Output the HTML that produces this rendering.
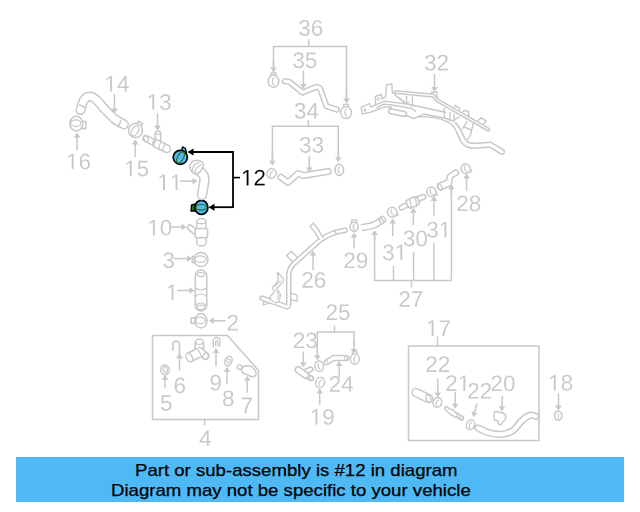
<!DOCTYPE html>
<html><head><meta charset="utf-8"><style>
html,body{margin:0;padding:0;background:#fff;width:640px;height:512px;overflow:hidden}
svg{position:absolute;left:0;top:0}
.bar{position:absolute;left:16px;top:457px;width:608px;height:45px;background:#4fb9f5}
.t{position:absolute;transform:scaleX(1.094);-webkit-text-stroke:0.25px #000;transform-origin:0 0;font-family:"Liberation Sans",sans-serif;font-size:17px;color:#000;white-space:nowrap;line-height:20px}
</style></head><body>
<svg width="640" height="512" viewBox="0 0 640 512">
<g fill="#c8c8c8" stroke="#fff" stroke-width="9.1"><path transform="translate(104.436 91.600) scale(0.010986 -0.010986)" d="M515 0L515 1237L197 1010L197 1180L530 1409L696 1409L696 0Z"/><path transform="translate(116.949 91.600) scale(0.010986 -0.010986)" d="M881 319V0H711V319H47V459L692 1409H881V461H1079V319ZM711 1206Q709 1200 683.0 1153.0Q657 1106 644 1087L283 555L229 481L213 461H711Z"/></g>
<g fill="#c8c8c8" stroke="#fff" stroke-width="9.1"><path transform="translate(66.036 169.300) scale(0.010986 -0.010986)" d="M515 0L515 1237L197 1010L197 1180L530 1409L696 1409L696 0Z"/><path transform="translate(78.549 169.300) scale(0.010986 -0.010986)" d="M1049 461Q1049 238 928.0 109.0Q807 -20 594 -20Q356 -20 230.0 157.0Q104 334 104 672Q104 1038 235.0 1234.0Q366 1430 608 1430Q927 1430 1010 1143L838 1112Q785 1284 606 1284Q452 1284 367.5 1140.5Q283 997 283 725Q332 816 421.0 863.5Q510 911 625 911Q820 911 934.5 789.0Q1049 667 1049 461ZM866 453Q866 606 791.0 689.0Q716 772 582 772Q456 772 378.5 698.5Q301 625 301 496Q301 333 381.5 229.0Q462 125 588 125Q718 125 792.0 212.5Q866 300 866 453Z"/></g>
<g fill="#c8c8c8" stroke="#fff" stroke-width="9.1"><path transform="translate(124.136 176.200) scale(0.010986 -0.010986)" d="M515 0L515 1237L197 1010L197 1180L530 1409L696 1409L696 0Z"/><path transform="translate(136.649 176.200) scale(0.010986 -0.010986)" d="M1053 459Q1053 236 920.5 108.0Q788 -20 553 -20Q356 -20 235.0 66.0Q114 152 82 315L264 336Q321 127 557 127Q702 127 784.0 214.5Q866 302 866 455Q866 588 783.5 670.0Q701 752 561 752Q488 752 425.0 729.0Q362 706 299 651H123L170 1409H971V1256H334L307 809Q424 899 598 899Q806 899 929.5 777.0Q1053 655 1053 459Z"/></g>
<g fill="#c8c8c8" stroke="#fff" stroke-width="9.1"><path transform="translate(146.586 109.800) scale(0.010986 -0.010986)" d="M515 0L515 1237L197 1010L197 1180L530 1409L696 1409L696 0Z"/><path transform="translate(159.099 109.800) scale(0.010986 -0.010986)" d="M1049 389Q1049 194 925.0 87.0Q801 -20 571 -20Q357 -20 229.5 76.5Q102 173 78 362L264 379Q300 129 571 129Q707 129 784.5 196.0Q862 263 862 395Q862 510 773.5 574.5Q685 639 518 639H416V795H514Q662 795 743.5 859.5Q825 924 825 1038Q825 1151 758.5 1216.5Q692 1282 561 1282Q442 1282 368.5 1221.0Q295 1160 283 1049L102 1063Q122 1236 245.5 1333.0Q369 1430 563 1430Q775 1430 892.5 1331.5Q1010 1233 1010 1057Q1010 922 934.5 837.5Q859 753 715 723V719Q873 702 961.0 613.0Q1049 524 1049 389Z"/></g>
<g fill="#c8c8c8" stroke="#fff" stroke-width="9.1"><path transform="translate(157.336 190.100) scale(0.010986 -0.010986)" d="M515 0L515 1237L197 1010L197 1180L530 1409L696 1409L696 0Z"/><path transform="translate(169.849 190.100) scale(0.010986 -0.010986)" d="M515 0L515 1237L197 1010L197 1180L530 1409L696 1409L696 0Z"/></g>
<g fill="#c8c8c8" stroke="#fff" stroke-width="9.1"><path transform="translate(147.236 235.400) scale(0.010986 -0.010986)" d="M515 0L515 1237L197 1010L197 1180L530 1409L696 1409L696 0Z"/><path transform="translate(159.749 235.400) scale(0.010986 -0.010986)" d="M1059 705Q1059 352 934.5 166.0Q810 -20 567 -20Q324 -20 202.0 165.0Q80 350 80 705Q80 1068 198.5 1249.0Q317 1430 573 1430Q822 1430 940.5 1247.0Q1059 1064 1059 705ZM876 705Q876 1010 805.5 1147.0Q735 1284 573 1284Q407 1284 334.5 1149.0Q262 1014 262 705Q262 405 335.5 266.0Q409 127 569 127Q728 127 802.0 269.0Q876 411 876 705Z"/></g>
<g fill="#c8c8c8" stroke="#fff" stroke-width="9.1"><path transform="translate(162.443 268.000) scale(0.010986 -0.010986)" d="M1049 389Q1049 194 925.0 87.0Q801 -20 571 -20Q357 -20 229.5 76.5Q102 173 78 362L264 379Q300 129 571 129Q707 129 784.5 196.0Q862 263 862 395Q862 510 773.5 574.5Q685 639 518 639H416V795H514Q662 795 743.5 859.5Q825 924 825 1038Q825 1151 758.5 1216.5Q692 1282 561 1282Q442 1282 368.5 1221.0Q295 1160 283 1049L102 1063Q122 1236 245.5 1333.0Q369 1430 563 1430Q775 1430 892.5 1331.5Q1010 1233 1010 1057Q1010 922 934.5 837.5Q859 753 715 723V719Q873 702 961.0 613.0Q1049 524 1049 389Z"/></g>
<g fill="#c8c8c8" stroke="#fff" stroke-width="9.1"><path transform="translate(165.836 300.100) scale(0.010986 -0.010986)" d="M515 0L515 1237L197 1010L197 1180L530 1409L696 1409L696 0Z"/></g>
<g fill="#c8c8c8" stroke="#fff" stroke-width="9.1"><path transform="translate(226.568 330.400) scale(0.010986 -0.010986)" d="M103 0V127Q154 244 227.5 333.5Q301 423 382.0 495.5Q463 568 542.5 630.0Q622 692 686.0 754.0Q750 816 789.5 884.0Q829 952 829 1038Q829 1154 761.0 1218.0Q693 1282 572 1282Q457 1282 382.5 1219.5Q308 1157 295 1044L111 1061Q131 1230 254.5 1330.0Q378 1430 572 1430Q785 1430 899.5 1329.5Q1014 1229 1014 1044Q1014 962 976.5 881.0Q939 800 865.0 719.0Q791 638 582 468Q467 374 399.0 298.5Q331 223 301 153H1036V0Z"/></g>
<g fill="#c8c8c8" stroke="#fff" stroke-width="9.1"><path transform="translate(199.084 446.000) scale(0.010986 -0.010986)" d="M881 319V0H711V319H47V459L692 1409H881V461H1079V319ZM711 1206Q709 1200 683.0 1153.0Q657 1106 644 1087L283 555L229 481L213 461H711Z"/></g>
<g fill="#c8c8c8" stroke="#fff" stroke-width="9.1"><path transform="translate(159.999 410.700) scale(0.010986 -0.010986)" d="M1053 459Q1053 236 920.5 108.0Q788 -20 553 -20Q356 -20 235.0 66.0Q114 152 82 315L264 336Q321 127 557 127Q702 127 784.0 214.5Q866 302 866 455Q866 588 783.5 670.0Q701 752 561 752Q488 752 425.0 729.0Q362 706 299 651H123L170 1409H971V1256H334L307 809Q424 899 598 899Q806 899 929.5 777.0Q1053 655 1053 459Z"/></g>
<g fill="#c8c8c8" stroke="#fff" stroke-width="9.1"><path transform="translate(173.457 393.200) scale(0.010986 -0.010986)" d="M1049 461Q1049 238 928.0 109.0Q807 -20 594 -20Q356 -20 230.0 157.0Q104 334 104 672Q104 1038 235.0 1234.0Q366 1430 608 1430Q927 1430 1010 1143L838 1112Q785 1284 606 1284Q452 1284 367.5 1140.5Q283 997 283 725Q332 816 421.0 863.5Q510 911 625 911Q820 911 934.5 789.0Q1049 667 1049 461ZM866 453Q866 606 791.0 689.0Q716 772 582 772Q456 772 378.5 698.5Q301 625 301 496Q301 333 381.5 229.0Q462 125 588 125Q718 125 792.0 212.5Q866 300 866 453Z"/></g>
<g fill="#c8c8c8" stroke="#fff" stroke-width="9.1"><path transform="translate(209.445 390.400) scale(0.010986 -0.010986)" d="M1042 733Q1042 370 909.5 175.0Q777 -20 532 -20Q367 -20 267.5 49.5Q168 119 125 274L297 301Q351 125 535 125Q690 125 775.0 269.0Q860 413 864 680Q824 590 727.0 535.5Q630 481 514 481Q324 481 210.0 611.0Q96 741 96 956Q96 1177 220.0 1303.5Q344 1430 565 1430Q800 1430 921.0 1256.0Q1042 1082 1042 733ZM846 907Q846 1077 768.0 1180.5Q690 1284 559 1284Q429 1284 354.0 1195.5Q279 1107 279 956Q279 802 354.0 712.5Q429 623 557 623Q635 623 702.0 658.5Q769 694 807.5 759.0Q846 824 846 907Z"/></g>
<g fill="#c8c8c8" stroke="#fff" stroke-width="9.1"><path transform="translate(222.022 406.100) scale(0.010986 -0.010986)" d="M1050 393Q1050 198 926.0 89.0Q802 -20 570 -20Q344 -20 216.5 87.0Q89 194 89 391Q89 529 168.0 623.0Q247 717 370 737V741Q255 768 188.5 858.0Q122 948 122 1069Q122 1230 242.5 1330.0Q363 1430 566 1430Q774 1430 894.5 1332.0Q1015 1234 1015 1067Q1015 946 948.0 856.0Q881 766 765 743V739Q900 717 975.0 624.5Q1050 532 1050 393ZM828 1057Q828 1296 566 1296Q439 1296 372.5 1236.0Q306 1176 306 1057Q306 936 374.5 872.5Q443 809 568 809Q695 809 761.5 867.5Q828 926 828 1057ZM863 410Q863 541 785.0 607.5Q707 674 566 674Q429 674 352.0 602.5Q275 531 275 406Q275 115 572 115Q719 115 791.0 185.5Q863 256 863 410Z"/></g>
<g fill="#c8c8c8" stroke="#fff" stroke-width="9.1"><path transform="translate(240.546 413.100) scale(0.010986 -0.010986)" d="M1036 1263Q820 933 731.0 746.0Q642 559 597.5 377.0Q553 195 553 0H365Q365 270 479.5 568.5Q594 867 862 1256H105V1409H1036Z"/></g>
<g fill="#c8c8c8" stroke="#fff" stroke-width="9.1"><path transform="translate(298.193 35.700) scale(0.010986 -0.010986)" d="M1049 389Q1049 194 925.0 87.0Q801 -20 571 -20Q357 -20 229.5 76.5Q102 173 78 362L264 379Q300 129 571 129Q707 129 784.5 196.0Q862 263 862 395Q862 510 773.5 574.5Q685 639 518 639H416V795H514Q662 795 743.5 859.5Q825 924 825 1038Q825 1151 758.5 1216.5Q692 1282 561 1282Q442 1282 368.5 1221.0Q295 1160 283 1049L102 1063Q122 1236 245.5 1333.0Q369 1430 563 1430Q775 1430 892.5 1331.5Q1010 1233 1010 1057Q1010 922 934.5 837.5Q859 753 715 723V719Q873 702 961.0 613.0Q1049 524 1049 389Z"/><path transform="translate(310.706 35.700) scale(0.010986 -0.010986)" d="M1049 461Q1049 238 928.0 109.0Q807 -20 594 -20Q356 -20 230.0 157.0Q104 334 104 672Q104 1038 235.0 1234.0Q366 1430 608 1430Q927 1430 1010 1143L838 1112Q785 1284 606 1284Q452 1284 367.5 1140.5Q283 997 283 725Q332 816 421.0 863.5Q510 911 625 911Q820 911 934.5 789.0Q1049 667 1049 461ZM866 453Q866 606 791.0 689.0Q716 772 582 772Q456 772 378.5 698.5Q301 625 301 496Q301 333 381.5 229.0Q462 125 588 125Q718 125 792.0 212.5Q866 300 866 453Z"/></g>
<g fill="#c8c8c8" stroke="#fff" stroke-width="9.1"><path transform="translate(292.343 68.000) scale(0.010986 -0.010986)" d="M1049 389Q1049 194 925.0 87.0Q801 -20 571 -20Q357 -20 229.5 76.5Q102 173 78 362L264 379Q300 129 571 129Q707 129 784.5 196.0Q862 263 862 395Q862 510 773.5 574.5Q685 639 518 639H416V795H514Q662 795 743.5 859.5Q825 924 825 1038Q825 1151 758.5 1216.5Q692 1282 561 1282Q442 1282 368.5 1221.0Q295 1160 283 1049L102 1063Q122 1236 245.5 1333.0Q369 1430 563 1430Q775 1430 892.5 1331.5Q1010 1233 1010 1057Q1010 922 934.5 837.5Q859 753 715 723V719Q873 702 961.0 613.0Q1049 524 1049 389Z"/><path transform="translate(304.856 68.000) scale(0.010986 -0.010986)" d="M1053 459Q1053 236 920.5 108.0Q788 -20 553 -20Q356 -20 235.0 66.0Q114 152 82 315L264 336Q321 127 557 127Q702 127 784.0 214.5Q866 302 866 455Q866 588 783.5 670.0Q701 752 561 752Q488 752 425.0 729.0Q362 706 299 651H123L170 1409H971V1256H334L307 809Q424 899 598 899Q806 899 929.5 777.0Q1053 655 1053 459Z"/></g>
<g fill="#c8c8c8" stroke="#fff" stroke-width="9.1"><path transform="translate(293.893 118.500) scale(0.010986 -0.010986)" d="M1049 389Q1049 194 925.0 87.0Q801 -20 571 -20Q357 -20 229.5 76.5Q102 173 78 362L264 379Q300 129 571 129Q707 129 784.5 196.0Q862 263 862 395Q862 510 773.5 574.5Q685 639 518 639H416V795H514Q662 795 743.5 859.5Q825 924 825 1038Q825 1151 758.5 1216.5Q692 1282 561 1282Q442 1282 368.5 1221.0Q295 1160 283 1049L102 1063Q122 1236 245.5 1333.0Q369 1430 563 1430Q775 1430 892.5 1331.5Q1010 1233 1010 1057Q1010 922 934.5 837.5Q859 753 715 723V719Q873 702 961.0 613.0Q1049 524 1049 389Z"/><path transform="translate(306.406 118.500) scale(0.010986 -0.010986)" d="M881 319V0H711V319H47V459L692 1409H881V461H1079V319ZM711 1206Q709 1200 683.0 1153.0Q657 1106 644 1087L283 555L229 481L213 461H711Z"/></g>
<g fill="#c8c8c8" stroke="#fff" stroke-width="9.1"><path transform="translate(299.043 152.700) scale(0.010986 -0.010986)" d="M1049 389Q1049 194 925.0 87.0Q801 -20 571 -20Q357 -20 229.5 76.5Q102 173 78 362L264 379Q300 129 571 129Q707 129 784.5 196.0Q862 263 862 395Q862 510 773.5 574.5Q685 639 518 639H416V795H514Q662 795 743.5 859.5Q825 924 825 1038Q825 1151 758.5 1216.5Q692 1282 561 1282Q442 1282 368.5 1221.0Q295 1160 283 1049L102 1063Q122 1236 245.5 1333.0Q369 1430 563 1430Q775 1430 892.5 1331.5Q1010 1233 1010 1057Q1010 922 934.5 837.5Q859 753 715 723V719Q873 702 961.0 613.0Q1049 524 1049 389Z"/><path transform="translate(311.556 152.700) scale(0.010986 -0.010986)" d="M1049 389Q1049 194 925.0 87.0Q801 -20 571 -20Q357 -20 229.5 76.5Q102 173 78 362L264 379Q300 129 571 129Q707 129 784.5 196.0Q862 263 862 395Q862 510 773.5 574.5Q685 639 518 639H416V795H514Q662 795 743.5 859.5Q825 924 825 1038Q825 1151 758.5 1216.5Q692 1282 561 1282Q442 1282 368.5 1221.0Q295 1160 283 1049L102 1063Q122 1236 245.5 1333.0Q369 1430 563 1430Q775 1430 892.5 1331.5Q1010 1233 1010 1057Q1010 922 934.5 837.5Q859 753 715 723V719Q873 702 961.0 613.0Q1049 524 1049 389Z"/></g>
<g fill="#c8c8c8" stroke="#fff" stroke-width="9.1"><path transform="translate(424.043 70.400) scale(0.010986 -0.010986)" d="M1049 389Q1049 194 925.0 87.0Q801 -20 571 -20Q357 -20 229.5 76.5Q102 173 78 362L264 379Q300 129 571 129Q707 129 784.5 196.0Q862 263 862 395Q862 510 773.5 574.5Q685 639 518 639H416V795H514Q662 795 743.5 859.5Q825 924 825 1038Q825 1151 758.5 1216.5Q692 1282 561 1282Q442 1282 368.5 1221.0Q295 1160 283 1049L102 1063Q122 1236 245.5 1333.0Q369 1430 563 1430Q775 1430 892.5 1331.5Q1010 1233 1010 1057Q1010 922 934.5 837.5Q859 753 715 723V719Q873 702 961.0 613.0Q1049 524 1049 389Z"/><path transform="translate(436.556 70.400) scale(0.010986 -0.010986)" d="M103 0V127Q154 244 227.5 333.5Q301 423 382.0 495.5Q463 568 542.5 630.0Q622 692 686.0 754.0Q750 816 789.5 884.0Q829 952 829 1038Q829 1154 761.0 1218.0Q693 1282 572 1282Q457 1282 382.5 1219.5Q308 1157 295 1044L111 1061Q131 1230 254.5 1330.0Q378 1430 572 1430Q785 1430 899.5 1329.5Q1014 1229 1014 1044Q1014 962 976.5 881.0Q939 800 865.0 719.0Q791 638 582 468Q467 374 399.0 298.5Q331 223 301 153H1036V0Z"/></g>
<g fill="#c8c8c8" stroke="#fff" stroke-width="9.1"><path transform="translate(301.268 287.700) scale(0.010986 -0.010986)" d="M103 0V127Q154 244 227.5 333.5Q301 423 382.0 495.5Q463 568 542.5 630.0Q622 692 686.0 754.0Q750 816 789.5 884.0Q829 952 829 1038Q829 1154 761.0 1218.0Q693 1282 572 1282Q457 1282 382.5 1219.5Q308 1157 295 1044L111 1061Q131 1230 254.5 1330.0Q378 1430 572 1430Q785 1430 899.5 1329.5Q1014 1229 1014 1044Q1014 962 976.5 881.0Q939 800 865.0 719.0Q791 638 582 468Q467 374 399.0 298.5Q331 223 301 153H1036V0Z"/><path transform="translate(313.782 287.700) scale(0.010986 -0.010986)" d="M1049 461Q1049 238 928.0 109.0Q807 -20 594 -20Q356 -20 230.0 157.0Q104 334 104 672Q104 1038 235.0 1234.0Q366 1430 608 1430Q927 1430 1010 1143L838 1112Q785 1284 606 1284Q452 1284 367.5 1140.5Q283 997 283 725Q332 816 421.0 863.5Q510 911 625 911Q820 911 934.5 789.0Q1049 667 1049 461ZM866 453Q866 606 791.0 689.0Q716 772 582 772Q456 772 378.5 698.5Q301 625 301 496Q301 333 381.5 229.0Q462 125 588 125Q718 125 792.0 212.5Q866 300 866 453Z"/></g>
<g fill="#c8c8c8" stroke="#fff" stroke-width="9.1"><path transform="translate(343.268 268.100) scale(0.010986 -0.010986)" d="M103 0V127Q154 244 227.5 333.5Q301 423 382.0 495.5Q463 568 542.5 630.0Q622 692 686.0 754.0Q750 816 789.5 884.0Q829 952 829 1038Q829 1154 761.0 1218.0Q693 1282 572 1282Q457 1282 382.5 1219.5Q308 1157 295 1044L111 1061Q131 1230 254.5 1330.0Q378 1430 572 1430Q785 1430 899.5 1329.5Q1014 1229 1014 1044Q1014 962 976.5 881.0Q939 800 865.0 719.0Q791 638 582 468Q467 374 399.0 298.5Q331 223 301 153H1036V0Z"/><path transform="translate(355.782 268.100) scale(0.010986 -0.010986)" d="M1042 733Q1042 370 909.5 175.0Q777 -20 532 -20Q367 -20 267.5 49.5Q168 119 125 274L297 301Q351 125 535 125Q690 125 775.0 269.0Q860 413 864 680Q824 590 727.0 535.5Q630 481 514 481Q324 481 210.0 611.0Q96 741 96 956Q96 1177 220.0 1303.5Q344 1430 565 1430Q800 1430 921.0 1256.0Q1042 1082 1042 733ZM846 907Q846 1077 768.0 1180.5Q690 1284 559 1284Q429 1284 354.0 1195.5Q279 1107 279 956Q279 802 354.0 712.5Q429 623 557 623Q635 623 702.0 658.5Q769 694 807.5 759.0Q846 824 846 907Z"/></g>
<g fill="#c8c8c8" stroke="#fff" stroke-width="9.1"><path transform="translate(382.143 260.100) scale(0.010986 -0.010986)" d="M1049 389Q1049 194 925.0 87.0Q801 -20 571 -20Q357 -20 229.5 76.5Q102 173 78 362L264 379Q300 129 571 129Q707 129 784.5 196.0Q862 263 862 395Q862 510 773.5 574.5Q685 639 518 639H416V795H514Q662 795 743.5 859.5Q825 924 825 1038Q825 1151 758.5 1216.5Q692 1282 561 1282Q442 1282 368.5 1221.0Q295 1160 283 1049L102 1063Q122 1236 245.5 1333.0Q369 1430 563 1430Q775 1430 892.5 1331.5Q1010 1233 1010 1057Q1010 922 934.5 837.5Q859 753 715 723V719Q873 702 961.0 613.0Q1049 524 1049 389Z"/><path transform="translate(394.656 260.100) scale(0.010986 -0.010986)" d="M515 0L515 1237L197 1010L197 1180L530 1409L696 1409L696 0Z"/></g>
<g fill="#c8c8c8" stroke="#fff" stroke-width="9.1"><path transform="translate(402.843 246.200) scale(0.010986 -0.010986)" d="M1049 389Q1049 194 925.0 87.0Q801 -20 571 -20Q357 -20 229.5 76.5Q102 173 78 362L264 379Q300 129 571 129Q707 129 784.5 196.0Q862 263 862 395Q862 510 773.5 574.5Q685 639 518 639H416V795H514Q662 795 743.5 859.5Q825 924 825 1038Q825 1151 758.5 1216.5Q692 1282 561 1282Q442 1282 368.5 1221.0Q295 1160 283 1049L102 1063Q122 1236 245.5 1333.0Q369 1430 563 1430Q775 1430 892.5 1331.5Q1010 1233 1010 1057Q1010 922 934.5 837.5Q859 753 715 723V719Q873 702 961.0 613.0Q1049 524 1049 389Z"/><path transform="translate(415.356 246.200) scale(0.010986 -0.010986)" d="M1059 705Q1059 352 934.5 166.0Q810 -20 567 -20Q324 -20 202.0 165.0Q80 350 80 705Q80 1068 198.5 1249.0Q317 1430 573 1430Q822 1430 940.5 1247.0Q1059 1064 1059 705ZM876 705Q876 1010 805.5 1147.0Q735 1284 573 1284Q407 1284 334.5 1149.0Q262 1014 262 705Q262 405 335.5 266.0Q409 127 569 127Q728 127 802.0 269.0Q876 411 876 705Z"/></g>
<g fill="#c8c8c8" stroke="#fff" stroke-width="9.1"><path transform="translate(426.243 237.400) scale(0.010986 -0.010986)" d="M1049 389Q1049 194 925.0 87.0Q801 -20 571 -20Q357 -20 229.5 76.5Q102 173 78 362L264 379Q300 129 571 129Q707 129 784.5 196.0Q862 263 862 395Q862 510 773.5 574.5Q685 639 518 639H416V795H514Q662 795 743.5 859.5Q825 924 825 1038Q825 1151 758.5 1216.5Q692 1282 561 1282Q442 1282 368.5 1221.0Q295 1160 283 1049L102 1063Q122 1236 245.5 1333.0Q369 1430 563 1430Q775 1430 892.5 1331.5Q1010 1233 1010 1057Q1010 922 934.5 837.5Q859 753 715 723V719Q873 702 961.0 613.0Q1049 524 1049 389Z"/><path transform="translate(438.756 237.400) scale(0.010986 -0.010986)" d="M515 0L515 1237L197 1010L197 1180L530 1409L696 1409L696 0Z"/></g>
<g fill="#c8c8c8" stroke="#fff" stroke-width="9.1"><path transform="translate(456.268 211.100) scale(0.010986 -0.010986)" d="M103 0V127Q154 244 227.5 333.5Q301 423 382.0 495.5Q463 568 542.5 630.0Q622 692 686.0 754.0Q750 816 789.5 884.0Q829 952 829 1038Q829 1154 761.0 1218.0Q693 1282 572 1282Q457 1282 382.5 1219.5Q308 1157 295 1044L111 1061Q131 1230 254.5 1330.0Q378 1430 572 1430Q785 1430 899.5 1329.5Q1014 1229 1014 1044Q1014 962 976.5 881.0Q939 800 865.0 719.0Q791 638 582 468Q467 374 399.0 298.5Q331 223 301 153H1036V0Z"/><path transform="translate(468.782 211.100) scale(0.010986 -0.010986)" d="M1050 393Q1050 198 926.0 89.0Q802 -20 570 -20Q344 -20 216.5 87.0Q89 194 89 391Q89 529 168.0 623.0Q247 717 370 737V741Q255 768 188.5 858.0Q122 948 122 1069Q122 1230 242.5 1330.0Q363 1430 566 1430Q774 1430 894.5 1332.0Q1015 1234 1015 1067Q1015 946 948.0 856.0Q881 766 765 743V739Q900 717 975.0 624.5Q1050 532 1050 393ZM828 1057Q828 1296 566 1296Q439 1296 372.5 1236.0Q306 1176 306 1057Q306 936 374.5 872.5Q443 809 568 809Q695 809 761.5 867.5Q828 926 828 1057ZM863 410Q863 541 785.0 607.5Q707 674 566 674Q429 674 352.0 602.5Q275 531 275 406Q275 115 572 115Q719 115 791.0 185.5Q863 256 863 410Z"/></g>
<g fill="#c8c8c8" stroke="#fff" stroke-width="9.1"><path transform="translate(398.368 306.800) scale(0.010986 -0.010986)" d="M103 0V127Q154 244 227.5 333.5Q301 423 382.0 495.5Q463 568 542.5 630.0Q622 692 686.0 754.0Q750 816 789.5 884.0Q829 952 829 1038Q829 1154 761.0 1218.0Q693 1282 572 1282Q457 1282 382.5 1219.5Q308 1157 295 1044L111 1061Q131 1230 254.5 1330.0Q378 1430 572 1430Q785 1430 899.5 1329.5Q1014 1229 1014 1044Q1014 962 976.5 881.0Q939 800 865.0 719.0Q791 638 582 468Q467 374 399.0 298.5Q331 223 301 153H1036V0Z"/><path transform="translate(410.882 306.800) scale(0.010986 -0.010986)" d="M1036 1263Q820 933 731.0 746.0Q642 559 597.5 377.0Q553 195 553 0H365Q365 270 479.5 568.5Q594 867 862 1256H105V1409H1036Z"/></g>
<g fill="#c8c8c8" stroke="#fff" stroke-width="9.1"><path transform="translate(325.568 319.900) scale(0.010986 -0.010986)" d="M103 0V127Q154 244 227.5 333.5Q301 423 382.0 495.5Q463 568 542.5 630.0Q622 692 686.0 754.0Q750 816 789.5 884.0Q829 952 829 1038Q829 1154 761.0 1218.0Q693 1282 572 1282Q457 1282 382.5 1219.5Q308 1157 295 1044L111 1061Q131 1230 254.5 1330.0Q378 1430 572 1430Q785 1430 899.5 1329.5Q1014 1229 1014 1044Q1014 962 976.5 881.0Q939 800 865.0 719.0Q791 638 582 468Q467 374 399.0 298.5Q331 223 301 153H1036V0Z"/><path transform="translate(338.082 319.900) scale(0.010986 -0.010986)" d="M1053 459Q1053 236 920.5 108.0Q788 -20 553 -20Q356 -20 235.0 66.0Q114 152 82 315L264 336Q321 127 557 127Q702 127 784.0 214.5Q866 302 866 455Q866 588 783.5 670.0Q701 752 561 752Q488 752 425.0 729.0Q362 706 299 651H123L170 1409H971V1256H334L307 809Q424 899 598 899Q806 899 929.5 777.0Q1053 655 1053 459Z"/></g>
<g fill="#c8c8c8" stroke="#fff" stroke-width="9.1"><path transform="translate(292.768 348.100) scale(0.010986 -0.010986)" d="M103 0V127Q154 244 227.5 333.5Q301 423 382.0 495.5Q463 568 542.5 630.0Q622 692 686.0 754.0Q750 816 789.5 884.0Q829 952 829 1038Q829 1154 761.0 1218.0Q693 1282 572 1282Q457 1282 382.5 1219.5Q308 1157 295 1044L111 1061Q131 1230 254.5 1330.0Q378 1430 572 1430Q785 1430 899.5 1329.5Q1014 1229 1014 1044Q1014 962 976.5 881.0Q939 800 865.0 719.0Q791 638 582 468Q467 374 399.0 298.5Q331 223 301 153H1036V0Z"/><path transform="translate(305.282 348.100) scale(0.010986 -0.010986)" d="M1049 389Q1049 194 925.0 87.0Q801 -20 571 -20Q357 -20 229.5 76.5Q102 173 78 362L264 379Q300 129 571 129Q707 129 784.5 196.0Q862 263 862 395Q862 510 773.5 574.5Q685 639 518 639H416V795H514Q662 795 743.5 859.5Q825 924 825 1038Q825 1151 758.5 1216.5Q692 1282 561 1282Q442 1282 368.5 1221.0Q295 1160 283 1049L102 1063Q122 1236 245.5 1333.0Q369 1430 563 1430Q775 1430 892.5 1331.5Q1010 1233 1010 1057Q1010 922 934.5 837.5Q859 753 715 723V719Q873 702 961.0 613.0Q1049 524 1049 389Z"/></g>
<g fill="#c8c8c8" stroke="#fff" stroke-width="9.1"><path transform="translate(328.668 391.800) scale(0.010986 -0.010986)" d="M103 0V127Q154 244 227.5 333.5Q301 423 382.0 495.5Q463 568 542.5 630.0Q622 692 686.0 754.0Q750 816 789.5 884.0Q829 952 829 1038Q829 1154 761.0 1218.0Q693 1282 572 1282Q457 1282 382.5 1219.5Q308 1157 295 1044L111 1061Q131 1230 254.5 1330.0Q378 1430 572 1430Q785 1430 899.5 1329.5Q1014 1229 1014 1044Q1014 962 976.5 881.0Q939 800 865.0 719.0Q791 638 582 468Q467 374 399.0 298.5Q331 223 301 153H1036V0Z"/><path transform="translate(341.182 391.800) scale(0.010986 -0.010986)" d="M881 319V0H711V319H47V459L692 1409H881V461H1079V319ZM711 1206Q709 1200 683.0 1153.0Q657 1106 644 1087L283 555L229 481L213 461H711Z"/></g>
<g fill="#c8c8c8" stroke="#fff" stroke-width="9.1"><path transform="translate(309.736 424.600) scale(0.010986 -0.010986)" d="M515 0L515 1237L197 1010L197 1180L530 1409L696 1409L696 0Z"/><path transform="translate(322.249 424.600) scale(0.010986 -0.010986)" d="M1042 733Q1042 370 909.5 175.0Q777 -20 532 -20Q367 -20 267.5 49.5Q168 119 125 274L297 301Q351 125 535 125Q690 125 775.0 269.0Q860 413 864 680Q824 590 727.0 535.5Q630 481 514 481Q324 481 210.0 611.0Q96 741 96 956Q96 1177 220.0 1303.5Q344 1430 565 1430Q800 1430 921.0 1256.0Q1042 1082 1042 733ZM846 907Q846 1077 768.0 1180.5Q690 1284 559 1284Q429 1284 354.0 1195.5Q279 1107 279 956Q279 802 354.0 712.5Q429 623 557 623Q635 623 702.0 658.5Q769 694 807.5 759.0Q846 824 846 907Z"/></g>
<g fill="#c8c8c8" stroke="#fff" stroke-width="9.1"><path transform="translate(425.936 335.900) scale(0.010986 -0.010986)" d="M515 0L515 1237L197 1010L197 1180L530 1409L696 1409L696 0Z"/><path transform="translate(438.449 335.900) scale(0.010986 -0.010986)" d="M1036 1263Q820 933 731.0 746.0Q642 559 597.5 377.0Q553 195 553 0H365Q365 270 479.5 568.5Q594 867 862 1256H105V1409H1036Z"/></g>
<g fill="#c8c8c8" stroke="#fff" stroke-width="9.1"><path transform="translate(425.268 371.900) scale(0.010986 -0.010986)" d="M103 0V127Q154 244 227.5 333.5Q301 423 382.0 495.5Q463 568 542.5 630.0Q622 692 686.0 754.0Q750 816 789.5 884.0Q829 952 829 1038Q829 1154 761.0 1218.0Q693 1282 572 1282Q457 1282 382.5 1219.5Q308 1157 295 1044L111 1061Q131 1230 254.5 1330.0Q378 1430 572 1430Q785 1430 899.5 1329.5Q1014 1229 1014 1044Q1014 962 976.5 881.0Q939 800 865.0 719.0Q791 638 582 468Q467 374 399.0 298.5Q331 223 301 153H1036V0Z"/><path transform="translate(437.782 371.900) scale(0.010986 -0.010986)" d="M103 0V127Q154 244 227.5 333.5Q301 423 382.0 495.5Q463 568 542.5 630.0Q622 692 686.0 754.0Q750 816 789.5 884.0Q829 952 829 1038Q829 1154 761.0 1218.0Q693 1282 572 1282Q457 1282 382.5 1219.5Q308 1157 295 1044L111 1061Q131 1230 254.5 1330.0Q378 1430 572 1430Q785 1430 899.5 1329.5Q1014 1229 1014 1044Q1014 962 976.5 881.0Q939 800 865.0 719.0Q791 638 582 468Q467 374 399.0 298.5Q331 223 301 153H1036V0Z"/></g>
<g fill="#c8c8c8" stroke="#fff" stroke-width="9.1"><path transform="translate(445.168 390.900) scale(0.010986 -0.010986)" d="M103 0V127Q154 244 227.5 333.5Q301 423 382.0 495.5Q463 568 542.5 630.0Q622 692 686.0 754.0Q750 816 789.5 884.0Q829 952 829 1038Q829 1154 761.0 1218.0Q693 1282 572 1282Q457 1282 382.5 1219.5Q308 1157 295 1044L111 1061Q131 1230 254.5 1330.0Q378 1430 572 1430Q785 1430 899.5 1329.5Q1014 1229 1014 1044Q1014 962 976.5 881.0Q939 800 865.0 719.0Q791 638 582 468Q467 374 399.0 298.5Q331 223 301 153H1036V0Z"/><path transform="translate(457.682 390.900) scale(0.010986 -0.010986)" d="M515 0L515 1237L197 1010L197 1180L530 1409L696 1409L696 0Z"/></g>
<g fill="#c8c8c8" stroke="#fff" stroke-width="9.1"><path transform="translate(467.168 398.600) scale(0.010986 -0.010986)" d="M103 0V127Q154 244 227.5 333.5Q301 423 382.0 495.5Q463 568 542.5 630.0Q622 692 686.0 754.0Q750 816 789.5 884.0Q829 952 829 1038Q829 1154 761.0 1218.0Q693 1282 572 1282Q457 1282 382.5 1219.5Q308 1157 295 1044L111 1061Q131 1230 254.5 1330.0Q378 1430 572 1430Q785 1430 899.5 1329.5Q1014 1229 1014 1044Q1014 962 976.5 881.0Q939 800 865.0 719.0Q791 638 582 468Q467 374 399.0 298.5Q331 223 301 153H1036V0Z"/><path transform="translate(479.682 398.600) scale(0.010986 -0.010986)" d="M103 0V127Q154 244 227.5 333.5Q301 423 382.0 495.5Q463 568 542.5 630.0Q622 692 686.0 754.0Q750 816 789.5 884.0Q829 952 829 1038Q829 1154 761.0 1218.0Q693 1282 572 1282Q457 1282 382.5 1219.5Q308 1157 295 1044L111 1061Q131 1230 254.5 1330.0Q378 1430 572 1430Q785 1430 899.5 1329.5Q1014 1229 1014 1044Q1014 962 976.5 881.0Q939 800 865.0 719.0Q791 638 582 468Q467 374 399.0 298.5Q331 223 301 153H1036V0Z"/></g>
<g fill="#c8c8c8" stroke="#fff" stroke-width="9.1"><path transform="translate(490.468 391.100) scale(0.010986 -0.010986)" d="M103 0V127Q154 244 227.5 333.5Q301 423 382.0 495.5Q463 568 542.5 630.0Q622 692 686.0 754.0Q750 816 789.5 884.0Q829 952 829 1038Q829 1154 761.0 1218.0Q693 1282 572 1282Q457 1282 382.5 1219.5Q308 1157 295 1044L111 1061Q131 1230 254.5 1330.0Q378 1430 572 1430Q785 1430 899.5 1329.5Q1014 1229 1014 1044Q1014 962 976.5 881.0Q939 800 865.0 719.0Q791 638 582 468Q467 374 399.0 298.5Q331 223 301 153H1036V0Z"/><path transform="translate(502.982 391.100) scale(0.010986 -0.010986)" d="M1059 705Q1059 352 934.5 166.0Q810 -20 567 -20Q324 -20 202.0 165.0Q80 350 80 705Q80 1068 198.5 1249.0Q317 1430 573 1430Q822 1430 940.5 1247.0Q1059 1064 1059 705ZM876 705Q876 1010 805.5 1147.0Q735 1284 573 1284Q407 1284 334.5 1149.0Q262 1014 262 705Q262 405 335.5 266.0Q409 127 569 127Q728 127 802.0 269.0Q876 411 876 705Z"/></g>
<g fill="#c8c8c8" stroke="#fff" stroke-width="9.1"><path transform="translate(548.136 390.500) scale(0.010986 -0.010986)" d="M515 0L515 1237L197 1010L197 1180L530 1409L696 1409L696 0Z"/><path transform="translate(560.649 390.500) scale(0.010986 -0.010986)" d="M1050 393Q1050 198 926.0 89.0Q802 -20 570 -20Q344 -20 216.5 87.0Q89 194 89 391Q89 529 168.0 623.0Q247 717 370 737V741Q255 768 188.5 858.0Q122 948 122 1069Q122 1230 242.5 1330.0Q363 1430 566 1430Q774 1430 894.5 1332.0Q1015 1234 1015 1067Q1015 946 948.0 856.0Q881 766 765 743V739Q900 717 975.0 624.5Q1050 532 1050 393ZM828 1057Q828 1296 566 1296Q439 1296 372.5 1236.0Q306 1176 306 1057Q306 936 374.5 872.5Q443 809 568 809Q695 809 761.5 867.5Q828 926 828 1057ZM863 410Q863 541 785.0 607.5Q707 674 566 674Q429 674 352.0 602.5Q275 531 275 406Q275 115 572 115Q719 115 791.0 185.5Q863 256 863 410Z"/></g>
<g fill="#000" stroke="#fff" stroke-width="18.2"><path transform="translate(240.936 185.500) scale(0.010986 -0.010986)" d="M515 0L515 1237L197 1010L197 1180L530 1409L696 1409L696 0Z"/><path transform="translate(253.449 185.500) scale(0.010986 -0.010986)" d="M103 0V127Q154 244 227.5 333.5Q301 423 382.0 495.5Q463 568 542.5 630.0Q622 692 686.0 754.0Q750 816 789.5 884.0Q829 952 829 1038Q829 1154 761.0 1218.0Q693 1282 572 1282Q457 1282 382.5 1219.5Q308 1157 295 1044L111 1061Q131 1230 254.5 1330.0Q378 1430 572 1430Q785 1430 899.5 1329.5Q1014 1229 1014 1044Q1014 962 976.5 881.0Q939 800 865.0 719.0Q791 638 582 468Q467 374 399.0 298.5Q331 223 301 153H1036V0Z"/></g>
<path d="M80.50,110.00 C81.08,108.33 82.50,102.25 84.00,100.00 C85.50,97.75 87.50,96.58 89.50,96.50 C91.50,96.42 93.42,97.33 96.00,99.50 C98.58,101.67 102.00,106.33 105.00,109.50 C108.00,112.67 110.83,116.00 114.00,118.50 C117.17,121.00 122.33,123.50 124.00,124.50" fill="none" stroke="#c8c8c8" stroke-width="10.0" stroke-linecap="round" stroke-linejoin="round"/>
<path d="M80.50,110.00 C81.08,108.33 82.50,102.25 84.00,100.00 C85.50,97.75 87.50,96.58 89.50,96.50 C91.50,96.42 93.42,97.33 96.00,99.50 C98.58,101.67 102.00,106.33 105.00,109.50 C108.00,112.67 110.83,116.00 114.00,118.50 C117.17,121.00 122.33,123.50 124.00,124.50" fill="none" stroke="#fff" stroke-width="7.0" stroke-linecap="round" stroke-linejoin="round"/>
<path d="M79.00,104.50 L86.00,108.00" fill="none" stroke="#c8c8c8" stroke-width="1.5" stroke-linejoin="miter"/>
<path d="M121.00,120.00 L118.00,127.50" fill="none" stroke="#c8c8c8" stroke-width="1.5" stroke-linejoin="miter"/>
<line x1="114.40" y1="94.00" x2="114.40" y2="109.00" stroke="#c8c8c8" stroke-width="1.5"/>
<path d="M114.40,113.50 L111.10,108.50 L117.70,108.50Z" fill="#c8c8c8"/>
<rect x="81.80" y="121.50" width="4" height="7" transform="rotate(0 83.8 125)" fill="#fff" stroke="#c8c8c8" stroke-width="1.5"/>
<g transform="rotate(0 76.3 123.6)">
<ellipse cx="76.3" cy="123.6" rx="6.4" ry="7.3" fill="#fff" stroke="#c8c8c8" stroke-width="1.5"/>
<ellipse cx="75.79" cy="123.23" rx="4.99" ry="3.29" fill="none" stroke="#c8c8c8" stroke-width="1.275"/>
</g>
<line x1="77.00" y1="150.00" x2="77.00" y2="137.00" stroke="#c8c8c8" stroke-width="1.5"/>
<path d="M77.00,132.50 L80.30,137.50 L73.70,137.50Z" fill="#c8c8c8"/>
<rect x="137.10" y="122.05" width="5" height="3.5" transform="rotate(35 139.6 123.8)" fill="#fff" stroke="#c8c8c8" stroke-width="1.5"/>
<g transform="rotate(-60 135.5 130.6)">
<ellipse cx="135.5" cy="130.6" rx="7" ry="7" fill="#fff" stroke="#c8c8c8" stroke-width="1.5"/>
<ellipse cx="134.94" cy="130.25" rx="5.46" ry="3.15" fill="none" stroke="#c8c8c8" stroke-width="1.275"/>
</g>
<line x1="135.20" y1="157.00" x2="135.20" y2="144.00" stroke="#c8c8c8" stroke-width="1.5"/>
<path d="M135.20,139.50 L138.50,144.50 L131.90,144.50Z" fill="#c8c8c8"/>
<rect x="155.3" y="131.3" width="5.4" height="11" rx="2.5" ry="1.8" fill="#fff" stroke="#c8c8c8" stroke-width="1.5"/>
<path d="M155.5,133.5 Q158,135 160.5,133.5" fill="none" stroke="#c8c8c8" stroke-width="1.1"/>
<path d="M146.00,138.50 L156.00,143.50" fill="none" stroke="#c8c8c8" stroke-width="7.5" stroke-linecap="round" stroke-linejoin="round"/>
<path d="M146.00,138.50 L156.00,143.50" fill="none" stroke="#fff" stroke-width="4.5" stroke-linecap="round" stroke-linejoin="round"/>
<path d="M156.50,143.50 L166.80,148.80" fill="none" stroke="#c8c8c8" stroke-width="9.0" stroke-linecap="round" stroke-linejoin="round"/>
<path d="M156.50,143.50 L166.80,148.80" fill="none" stroke="#fff" stroke-width="6.0" stroke-linecap="round" stroke-linejoin="round"/>
<ellipse cx="146" cy="138.6" rx="2" ry="3.2" transform="rotate(-30 146 138.6)" fill="none" stroke="#c8c8c8" stroke-width="1.2"/>
<path d="M156.5,139.5 Q153.5,143 154,148 M161,141.5 Q158.5,146 159,150.5 M165,143.5 Q162.5,148 163,152.5" fill="none" stroke="#c8c8c8" stroke-width="1.2"/>
<line x1="157.50" y1="113.00" x2="157.50" y2="126.30" stroke="#c8c8c8" stroke-width="1.5"/>
<path d="M157.50,130.80 L154.20,125.80 L160.80,125.80Z" fill="#c8c8c8"/>
<line x1="233.00" y1="152.00" x2="193.00" y2="152.00" stroke="#000" stroke-width="1.8"/>
<path d="M187.50,152.00 L193.50,148.50 L193.50,155.50Z" fill="#000"/>
<path d="M233.00,151.10 L233.00,208.10" fill="none" stroke="#000" stroke-width="1.8" stroke-linejoin="miter"/>
<line x1="233.00" y1="207.20" x2="214.00" y2="207.20" stroke="#000" stroke-width="1.8"/>
<path d="M208.50,207.20 L214.50,203.70 L214.50,210.70Z" fill="#000"/>
<path d="M233.00,177.60 L240.00,177.60" fill="none" stroke="#000" stroke-width="1.6" stroke-linejoin="miter"/>
<path d="M181.5,151 L182.5,146.8 L185.5,148.5 L186.5,153 Z" fill="#4fbaf4" stroke="#000" stroke-width="1.3" stroke-linejoin="round"/>
<ellipse cx="180.3" cy="157.3" rx="7.1" ry="7" fill="#4fbaf4" stroke="#000" stroke-width="1.7"/>
<ellipse cx="180.5" cy="157.5" rx="6" ry="2.9" transform="rotate(-62 180.5 157.5)" fill="none" stroke="#2e6e1a" stroke-width="1.1"/>
<path d="M181.5,151 L185,153" fill="none" stroke="#2e6e1a" stroke-width="1"/>
<path d="M195.5,204 L191.5,205 L191,211 L195.5,211 Z" fill="#2e6e1a" stroke="#000" stroke-width="1.3"/>
<ellipse cx="201.4" cy="207.4" rx="6.5" ry="7.1" fill="#4fbaf4" stroke="#000" stroke-width="1.7"/>
<ellipse cx="201.2" cy="207.3" rx="5.2" ry="2.8" fill="none" stroke="#2e6e1a" stroke-width="1.1"/>
<path d="M198.50,169.50 C199.42,170.67 203.08,174.25 204.00,176.50 C204.92,178.75 204.33,179.92 204.00,183.00 C203.67,186.08 202.33,193.00 202.00,195.00" fill="none" stroke="#c8c8c8" stroke-width="10.5" stroke-linecap="round" stroke-linejoin="round"/>
<path d="M198.50,169.50 C199.42,170.67 203.08,174.25 204.00,176.50 C204.92,178.75 204.33,179.92 204.00,183.00 C203.67,186.08 202.33,193.00 202.00,195.00" fill="none" stroke="#fff" stroke-width="7.5" stroke-linecap="round" stroke-linejoin="round"/>
<path d="M189.9,167.5 Q189.3,161 196.4,160.2 Q201.8,160.2 203.8,164.8 Q202,171 196.5,174.5 Q191,172.5 189.9,167.5 Z" fill="#fff" stroke="#c8c8c8" stroke-width="1.5"/>
<path d="M192.6,170.8 Q192.2,164 199.2,162.3 M195.2,172.8 Q195,166.5 202,164.5" fill="none" stroke="#c8c8c8" stroke-width="1.3"/>
<line x1="180.30" y1="181.10" x2="193.00" y2="181.10" stroke="#c8c8c8" stroke-width="1.5"/>
<path d="M197.50,181.10 L192.50,184.40 L192.50,177.80Z" fill="#c8c8c8"/>
<path d="M190.00,227.50 L196.00,232.50" fill="none" stroke="#c8c8c8" stroke-width="6.5" stroke-linecap="round" stroke-linejoin="round"/>
<path d="M190.00,227.50 L196.00,232.50" fill="none" stroke="#fff" stroke-width="3.5" stroke-linecap="round" stroke-linejoin="round"/>
<rect x="196.7" y="218.5" width="9.4" height="27.5" rx="4" fill="#fff" stroke="#c8c8c8" stroke-width="1.5"/>
<rect x="195.1" y="228.5" width="12.5" height="9.2" rx="2" fill="#fff" stroke="#c8c8c8" stroke-width="1.5"/>
<path d="M196.7,222.5 Q201.4,225 206.1,222.5" fill="none" stroke="#c8c8c8" stroke-width="1.3"/>
<line x1="171.00" y1="227.00" x2="182.00" y2="227.00" stroke="#c8c8c8" stroke-width="1.5"/>
<path d="M186.50,227.00 L181.50,230.30 L181.50,223.70Z" fill="#c8c8c8"/>
<rect x="192.25" y="256.50" width="3.5" height="6" transform="rotate(0 194 259.5)" fill="#fff" stroke="#c8c8c8" stroke-width="1.5"/>
<g transform="rotate(0 201 259.5)">
<ellipse cx="201" cy="259.5" rx="6.9" ry="7.1" fill="#fff" stroke="#c8c8c8" stroke-width="1.5"/>
<ellipse cx="200.45" cy="259.14" rx="5.38" ry="3.19" fill="none" stroke="#c8c8c8" stroke-width="1.275"/>
</g>
<line x1="174.00" y1="258.60" x2="187.50" y2="258.60" stroke="#c8c8c8" stroke-width="1.5"/>
<path d="M192.00,258.60 L187.00,261.90 L187.00,255.30Z" fill="#c8c8c8"/>
<rect x="195.2" y="270" width="11.6" height="41" rx="5.8" fill="#fff" stroke="#c8c8c8" stroke-width="1.5"/>
<ellipse cx="201" cy="274.6" rx="3.8" ry="2" fill="none" stroke="#c8c8c8" stroke-width="1.2"/>
<ellipse cx="201" cy="307.3" rx="4" ry="2.2" fill="none" stroke="#c8c8c8" stroke-width="1.2"/>
<path d="M195.2,287.5 Q201,292.5 206.8,287.5 M195.2,296.5 Q201,291.5 206.8,296.5 M196,305 Q201,301 206,305" fill="none" stroke="#c8c8c8" stroke-width="1.2"/>
<line x1="177.00" y1="290.50" x2="190.00" y2="290.50" stroke="#c8c8c8" stroke-width="1.5"/>
<path d="M194.50,290.50 L189.50,293.80 L189.50,287.20Z" fill="#c8c8c8"/>
<rect x="191.25" y="317.75" width="3.5" height="5.5" transform="rotate(0 193 320.5)" fill="#fff" stroke="#c8c8c8" stroke-width="1.5"/>
<g transform="rotate(0 201 320.8)">
<ellipse cx="201" cy="320.8" rx="6" ry="7.2" fill="#fff" stroke="#c8c8c8" stroke-width="1.5"/>
<ellipse cx="200.52" cy="320.44" rx="4.68" ry="3.24" fill="none" stroke="#c8c8c8" stroke-width="1.275"/>
</g>
<line x1="225.60" y1="320.80" x2="213.20" y2="320.80" stroke="#c8c8c8" stroke-width="1.5"/>
<path d="M208.70,320.80 L213.70,317.50 L213.70,324.10Z" fill="#c8c8c8"/>
<path d="M152.50,335.50 L227.50,335.50 L258.50,370.50 L258.50,419.50 L152.50,419.50 L152.50,335.50" fill="none" stroke="#c8c8c8" stroke-width="1.5" stroke-linejoin="miter"/>
<path d="M204.70,419.50 L204.70,425.50" fill="none" stroke="#c8c8c8" stroke-width="1.5" stroke-linejoin="miter"/>
<path d="M172.6,351 Q173,349 173,347 L173,344 Q173,341.3 175.5,341.3 L177,341.3 Q179.5,341.3 179.5,344 L179.5,355" fill="none" stroke="#c8c8c8" stroke-width="1.6"/>
<line x1="179.50" y1="370.50" x2="179.50" y2="357.80" stroke="#c8c8c8" stroke-width="1.5"/>
<path d="M179.50,353.30 L182.80,358.30 L176.20,358.30Z" fill="#c8c8c8"/>
<ellipse cx="165" cy="369.8" rx="4.2" ry="4.8" transform="rotate(-20 165 369.8)" fill="none" stroke="#c8c8c8" stroke-width="1.5"/>
<ellipse cx="165.3" cy="369.6" rx="2" ry="2.8" transform="rotate(-20 165.3 369.6)" fill="none" stroke="#c8c8c8" stroke-width="1.1"/>
<line x1="165.00" y1="388.00" x2="165.00" y2="379.30" stroke="#c8c8c8" stroke-width="1.5"/>
<path d="M165.00,374.80 L168.30,379.80 L161.70,379.80Z" fill="#c8c8c8"/>
<rect x="195.1" y="339" width="8.5" height="14" rx="4.2" ry="4" fill="#fff" stroke="#c8c8c8" stroke-width="1.5"/>
<path d="M195.5,343 Q199.3,346 203.2,343" fill="none" stroke="#c8c8c8" stroke-width="1.2"/>
<path d="M200.00,351.00 L205.50,356.00" fill="none" stroke="#c8c8c8" stroke-width="8.0" stroke-linecap="round" stroke-linejoin="round"/>
<path d="M200.00,351.00 L205.50,356.00" fill="none" stroke="#fff" stroke-width="5.0" stroke-linecap="round" stroke-linejoin="round"/>
<ellipse cx="205.6" cy="356.1" rx="2.6" ry="3.3" transform="rotate(40 205.6 356.1)" fill="none" stroke="#c8c8c8" stroke-width="1.2"/>
<path d="M189.50,357.50 L199.00,352.50" fill="none" stroke="#c8c8c8" stroke-width="10.5" stroke-linecap="butt" stroke-linejoin="round"/>
<path d="M189.50,357.50 L199.00,352.50" fill="none" stroke="#fff" stroke-width="7.5" stroke-linecap="butt" stroke-linejoin="round"/>
<ellipse cx="199" cy="352.5" rx="2.8" ry="4.5" transform="rotate(-28 199 352.5)" fill="#fff" stroke="none"/>
<path d="M196.5,348.5 Q200.5,352 201,356.5" fill="none" stroke="#c8c8c8" stroke-width="1.2"/>
<ellipse cx="189.3" cy="357.5" rx="2.9" ry="4.6" transform="rotate(-28 189.3 357.5)" fill="#fff" stroke="#c8c8c8" stroke-width="1.5"/>
<path d="M213.3,347.3 L213.3,341 Q213.3,337.6 216.6,337.6 Q219.8,337.6 219.8,341 L219.8,347 M215.6,346.3 L215.6,342.5 Q215.6,340.6 216.7,340.6 Q217.8,340.6 217.8,342.5 L217.8,346.3" fill="none" stroke="#c8c8c8" stroke-width="1.3"/>
<line x1="216.00" y1="366.60" x2="216.00" y2="352.50" stroke="#c8c8c8" stroke-width="1.5"/>
<path d="M216.00,348.00 L219.30,353.00 L212.70,353.00Z" fill="#c8c8c8"/>
<ellipse cx="228.4" cy="361.1" rx="3.4" ry="5" transform="rotate(25 228.4 361.1)" fill="none" stroke="#c8c8c8" stroke-width="1.5"/>
<ellipse cx="228.4" cy="361.1" rx="1.5" ry="2.2" transform="rotate(25 228.4 361.1)" fill="none" stroke="#c8c8c8" stroke-width="1"/>
<line x1="227.00" y1="384.00" x2="227.00" y2="371.30" stroke="#c8c8c8" stroke-width="1.5"/>
<path d="M227.00,366.80 L230.30,371.80 L223.70,371.80Z" fill="#c8c8c8"/>
<path d="M241.8,368.5 Q243,365.8 246,366 Q251,365 253.5,368.5 Q257,371.5 255.8,375 Q254,378 250,376 Q246.5,374.5 243.5,373.5 Q241,372 241.8,368.5 Z" fill="#fff" stroke="#c8c8c8" stroke-width="1.5"/>
<circle cx="239.6" cy="367.2" r="2.3" fill="#fff" stroke="#c8c8c8" stroke-width="1.4"/>
<line x1="247.20" y1="392.40" x2="247.20" y2="380.30" stroke="#c8c8c8" stroke-width="1.5"/>
<path d="M247.20,375.80 L250.50,380.80 L243.90,380.80Z" fill="#c8c8c8"/>
<path d="M308.80,39.30 L308.80,46.50" fill="none" stroke="#c8c8c8" stroke-width="1.5" stroke-linejoin="miter"/>
<path d="M273.50,72.00 L273.50,46.50 L346.50,46.50 L346.50,100.00" fill="none" stroke="#c8c8c8" stroke-width="1.5" stroke-linejoin="miter"/>
<line x1="273.50" y1="60.00" x2="273.50" y2="68.00" stroke="#c8c8c8" stroke-width="1.5"/>
<path d="M273.50,72.50 L270.20,67.50 L276.80,67.50Z" fill="#c8c8c8"/>
<line x1="346.50" y1="90.00" x2="346.50" y2="99.00" stroke="#c8c8c8" stroke-width="1.5"/>
<path d="M346.50,103.50 L343.20,98.50 L349.80,98.50Z" fill="#c8c8c8"/>
<g transform="rotate(0 273.5 81.2)">
<rect x="271.10" y="72.90" width="4.8" height="3" fill="#fff" stroke="#c8c8c8" stroke-width="1.3"/>
<ellipse cx="273.5" cy="81.2" rx="5.3" ry="6.1" fill="#fff" stroke="#c8c8c8" stroke-width="1.5"/>
<path d="M274.03,77.42 Q270.32,81.51 274.30,85.47" fill="none" stroke="#c8c8c8" stroke-width="1.2"/>
</g>
<g transform="rotate(0 346.1 112.5)">
<rect x="343.70" y="104.30" width="4.8" height="3" fill="#fff" stroke="#c8c8c8" stroke-width="1.3"/>
<ellipse cx="346.1" cy="112.5" rx="5.4" ry="6" fill="#fff" stroke="#c8c8c8" stroke-width="1.5"/>
<path d="M346.64,108.78 Q342.86,112.80 346.91,116.70" fill="none" stroke="#c8c8c8" stroke-width="1.2"/>
</g>
<path d="M284.80,81.20 L289.50,82.00 L302.50,92.50 L316.50,86.80 L320.00,88.30 L326.40,106.20 L336.80,109.60" fill="none" stroke="#c8c8c8" stroke-width="6.3" stroke-linecap="round" stroke-linejoin="round"/>
<path d="M284.80,81.20 L289.50,82.00 L302.50,92.50 L316.50,86.80 L320.00,88.30 L326.40,106.20 L336.80,109.60" fill="none" stroke="#fff" stroke-width="3.3" stroke-linecap="round" stroke-linejoin="round"/>
<line x1="303.40" y1="70.50" x2="303.40" y2="84.50" stroke="#c8c8c8" stroke-width="1.5"/>
<path d="M303.40,89.00 L300.10,84.00 L306.70,84.00Z" fill="#c8c8c8"/>
<path d="M308.30,120.00 L308.30,126.30" fill="none" stroke="#c8c8c8" stroke-width="1.5" stroke-linejoin="miter"/>
<path d="M272.40,160.00 L272.40,126.30 L338.30,126.30 L338.30,160.00" fill="none" stroke="#c8c8c8" stroke-width="1.5" stroke-linejoin="miter"/>
<line x1="272.40" y1="150.00" x2="272.40" y2="161.20" stroke="#c8c8c8" stroke-width="1.5"/>
<path d="M272.40,165.70 L269.10,160.70 L275.70,160.70Z" fill="#c8c8c8"/>
<line x1="338.30" y1="150.00" x2="338.30" y2="157.70" stroke="#c8c8c8" stroke-width="1.5"/>
<path d="M338.30,162.20 L335.00,157.20 L341.60,157.20Z" fill="#c8c8c8"/>
<g transform="rotate(30 271.6 173.4)">
<ellipse cx="271.6" cy="173.4" rx="4.5" ry="5" fill="#fff" stroke="#c8c8c8" stroke-width="1.5"/>
<path d="M272.05,170.30 Q268.90,173.65 272.28,176.90" fill="none" stroke="#c8c8c8" stroke-width="1.2"/>
</g>
<g transform="rotate(0 339.25 169.9)">
<ellipse cx="339.25" cy="169.9" rx="4.3" ry="5.6" fill="#fff" stroke="#c8c8c8" stroke-width="1.5"/>
<path d="M339.68,166.43 Q336.67,170.18 339.89,173.82" fill="none" stroke="#c8c8c8" stroke-width="1.2"/>
</g>
<path d="M280.80,177.20 L288.00,182.50 L298.00,173.50 L303.50,175.50 L328.20,171.50" fill="none" stroke="#c8c8c8" stroke-width="7.0" stroke-linecap="round" stroke-linejoin="round"/>
<path d="M280.80,177.20 L288.00,182.50 L298.00,173.50 L303.50,175.50 L328.20,171.50" fill="none" stroke="#fff" stroke-width="4.0" stroke-linecap="round" stroke-linejoin="round"/>
<line x1="309.30" y1="155.90" x2="309.30" y2="168.00" stroke="#c8c8c8" stroke-width="1.5"/>
<path d="M309.30,172.50 L306.00,167.50 L312.60,167.50Z" fill="#c8c8c8"/>
<path d="M391.00,111.20 C393.33,111.58 397.50,112.78 405.00,113.50 C412.50,114.22 428.50,114.33 436.00,115.50 C443.50,116.67 446.67,118.75 450.00,120.50 C453.33,122.25 454.25,123.58 456.00,126.00 C457.75,128.42 459.25,132.50 460.50,135.00 C461.75,137.50 462.25,139.37 463.50,141.00 C464.75,142.63 465.92,144.00 468.00,144.80 C470.08,145.60 472.50,145.80 476.00,145.80 C479.50,145.80 486.42,144.85 489.00,144.80 C491.58,144.75 489.33,144.33 491.50,145.50 C493.67,146.67 500.25,150.75 502.00,151.80" fill="none" stroke="#c8c8c8" stroke-width="6.3" stroke-linecap="round" stroke-linejoin="round"/>
<path d="M391.00,111.20 C393.33,111.58 397.50,112.78 405.00,113.50 C412.50,114.22 428.50,114.33 436.00,115.50 C443.50,116.67 446.67,118.75 450.00,120.50 C453.33,122.25 454.25,123.58 456.00,126.00 C457.75,128.42 459.25,132.50 460.50,135.00 C461.75,137.50 462.25,139.37 463.50,141.00 C464.75,142.63 465.92,144.00 468.00,144.80 C470.08,145.60 472.50,145.80 476.00,145.80 C479.50,145.80 486.42,144.85 489.00,144.80 C491.58,144.75 489.33,144.33 491.50,145.50 C493.67,146.67 500.25,150.75 502.00,151.80" fill="none" stroke="#fff" stroke-width="3.3" stroke-linecap="round" stroke-linejoin="round"/>
<path d="M361.9,114 L361.3,107.3 L369.2,103.6 L370.6,107 L375.5,104.8 L375.5,96.4 L381.4,94.4 L381.8,99.1 L385.7,96.75 L386.5,84.6 L391.9,83.9 L392.3,92.5 L396,95 L406,96 L431,98 L444,104 L454,108 L470,117 L476,122 L472,134 L468,139 L463,131 L457,123 L452,121 L444.6,118 L423.3,113.25 L414,118.7 L396,110 L384,107 L372,111 Z" fill="#fff" stroke="none"/>
<path d="M395.60,92.00 L433.00,95.60 L437.50,100.50 L488.30,129.60" fill="none" stroke="#c8c8c8" stroke-width="4.1" stroke-linecap="round" stroke-linejoin="round"/>
<path d="M395.60,92.00 L433.00,95.60 L437.50,100.50 L488.30,129.60" fill="none" stroke="#fff" stroke-width="1.1" stroke-linecap="round" stroke-linejoin="round"/>
<path d="M431.5,94.2 L431.5,92.3 L437,92.3 L437,98.5" fill="none" stroke="#c8c8c8" stroke-width="1.4" stroke-linejoin="round"/>
<path d="M454.4,107.6 L455.2,105.3 L459.6,108.3 L459.6,110.8" fill="none" stroke="#c8c8c8" stroke-width="1.4" stroke-linejoin="round"/>
<path d="M462.8,112.4 L464.2,110.3 L468.3,111.5 L469,116.4" fill="none" stroke="#c8c8c8" stroke-width="1.4" stroke-linejoin="round"/>
<path d="M477.5,121.3 L481.2,117.6 L486.2,121.4 L483,124" fill="none" stroke="#c8c8c8" stroke-width="1.4" stroke-linejoin="round"/>
<path d="M361.9,114 L361.3,107.3 L369.2,103.6 L370.6,107 L375.5,104.8 L375.5,96.4 L381.4,94.4 L381.8,99.1 L385.7,96.75 L386.5,84.6 L391.9,83.9 L392.3,92.5 L405.4,103.1" fill="none" stroke="#c8c8c8" stroke-width="1.4" stroke-linejoin="round"/>
<path d="M361.9,114 L370,112.4 L376.3,110 L384.9,106.9 L392,107.5" fill="none" stroke="#c8c8c8" stroke-width="1.4" stroke-linejoin="round"/>
<path d="M375.3,105.1 L383.75,101.3 L389.4,101.6 L410.8,104.7 L446,112.5" fill="none" stroke="#c8c8c8" stroke-width="1.4" stroke-linejoin="round"/>
<path d="M376.25,107.9 L383.75,104.1 L390,104.75 L400,106.3 L411.6,108.5 L416,111.5" fill="none" stroke="#c8c8c8" stroke-width="1.4" stroke-linejoin="round"/>
<path d="M396,95.7 L405.4,103.1" fill="none" stroke="#c8c8c8" stroke-width="1.4" stroke-linejoin="round"/>
<path d="M406.5,96 L406.5,104" fill="none" stroke="#c8c8c8" stroke-width="1.4" stroke-linejoin="round"/>
<path d="M412.4,96.5 L412.4,107" fill="none" stroke="#c8c8c8" stroke-width="1.4" stroke-linejoin="round"/>
<path d="M404,114.5 L414,118.7 L423.3,114 L444.6,118 L452.8,121 L459.4,116.7" fill="none" stroke="#c8c8c8" stroke-width="1.4" stroke-linejoin="round"/>
<path d="M391.00,111.30 L404.00,113.80" fill="none" stroke="#c8c8c8" stroke-width="6.3" stroke-linecap="round" stroke-linejoin="round"/>
<path d="M391.00,111.30 L404.00,113.80" fill="none" stroke="#fff" stroke-width="3.3" stroke-linecap="round" stroke-linejoin="round"/>
<path d="M444.4,108 L444.4,118" fill="none" stroke="#c8c8c8" stroke-width="1.4" stroke-linejoin="round"/>
<path d="M450,112 L450,120" fill="none" stroke="#c8c8c8" stroke-width="1.4" stroke-linejoin="round"/>
<path d="M454,114 L454,121" fill="none" stroke="#c8c8c8" stroke-width="1.4" stroke-linejoin="round"/>
<path d="M454.75,121.8 L461.8,131.2" fill="none" stroke="#c8c8c8" stroke-width="1.4" stroke-linejoin="round"/>
<path d="M467.25,121 L462.6,128.8" fill="none" stroke="#c8c8c8" stroke-width="1.4" stroke-linejoin="round"/>
<path d="M473.5,123.3 L470.4,135 L467.5,140" fill="none" stroke="#c8c8c8" stroke-width="1.4" stroke-linejoin="round"/>
<path d="M462.9,126.3 L471,130" fill="none" stroke="#c8c8c8" stroke-width="1.4" stroke-linejoin="round"/>
<ellipse cx="378.3" cy="99.1" rx="1.1" ry="1.6" fill="none" stroke="#c8c8c8" stroke-width="1"/>
<ellipse cx="365" cy="110" rx="1.1" ry="1.3" fill="none" stroke="#c8c8c8" stroke-width="1"/>
<ellipse cx="408.5" cy="102.7" rx="0.9" ry="1.2" fill="none" stroke="#c8c8c8" stroke-width="0.9"/>
<line x1="434.50" y1="74.00" x2="434.50" y2="87.50" stroke="#c8c8c8" stroke-width="1.5"/>
<path d="M434.50,92.00 L431.20,87.00 L437.80,87.00Z" fill="#c8c8c8"/>
<path d="M263,305 L271.5,302.3 L272.5,299.5 L263.5,302 Z" fill="#fff" stroke="#c8c8c8" stroke-width="1.3" stroke-linejoin="round"/>
<path d="M291,293.2 L297,295.2 L297,301.1 L291,299.6" fill="#fff" stroke="#c8c8c8" stroke-width="1.3"/>
<path d="M286.5,255.5 L291.5,251.5 L300,260 L295,264 Z" fill="#fff" stroke="#c8c8c8" stroke-width="1.4"/>
<path d="M262,298.2 L286,306.5 Q288.7,307.8 288.7,304.5 L288.7,276 Q288.7,269 293,264.5 L318.5,241.5 Q325,236 335.5,232.3 L345.2,230.3" fill="none" stroke="#c8c8c8" stroke-width="5.5" stroke-linecap="round" stroke-linejoin="round"/>
<path d="M262,298.2 L286,306.5 Q288.7,307.8 288.7,304.5 L288.7,276 Q288.7,269 293,264.5 L318.5,241.5 Q325,236 335.5,232.3 L345.2,230.3" fill="none" stroke="#fff" stroke-width="2.5" stroke-linecap="round" stroke-linejoin="round"/>
<path d="M321.50,239.00 L316.50,231.00 L312.00,225.00" fill="none" stroke="#c8c8c8" stroke-width="6.0" stroke-linecap="butt" stroke-linejoin="round"/>
<path d="M321.50,239.00 L316.50,231.00 L312.00,225.00" fill="none" stroke="#fff" stroke-width="3.0" stroke-linecap="butt" stroke-linejoin="round"/>
<path d="M309.50,226.50 L314.50,222.50" fill="none" stroke="#c8c8c8" stroke-width="1.5" stroke-linejoin="miter"/>
<path d="M335.00,230.50 L336.50,235.00" fill="none" stroke="#c8c8c8" stroke-width="1.5" stroke-linejoin="miter"/>
<path d="M277.4,272.3 L283.3,278.5 L283,282 L276.8,288.5 L280.5,294.5 L279.5,300.5 L276,303 L271,300 L270,297 L274.3,292 L272.2,287.5 L278.5,280.5 Z" fill="#fff" stroke="#c8c8c8" stroke-width="1.3" stroke-linejoin="round"/>
<path d="M274.6,286.8 L280.8,280.8 M275.3,289.5 L278.6,294.5 L277.3,299.8" fill="none" stroke="#c8c8c8" stroke-width="1.1"/>
<line x1="313.00" y1="270.00" x2="313.00" y2="255.00" stroke="#c8c8c8" stroke-width="1.5"/>
<path d="M313.00,250.50 L316.30,255.50 L309.70,255.50Z" fill="#c8c8c8"/>
<path d="M374.60,232.00 L374.60,280.60 L451.40,280.60 L451.40,186.00" fill="none" stroke="#c8c8c8" stroke-width="1.5" stroke-linejoin="miter"/>
<path d="M393.50,265.90 L393.50,280.60" fill="none" stroke="#c8c8c8" stroke-width="1.5" stroke-linejoin="miter"/>
<path d="M413.60,251.80 L413.60,280.60" fill="none" stroke="#c8c8c8" stroke-width="1.5" stroke-linejoin="miter"/>
<path d="M433.90,242.90 L433.90,280.60" fill="none" stroke="#c8c8c8" stroke-width="1.5" stroke-linejoin="miter"/>
<path d="M411.50,280.60 L411.50,287.50" fill="none" stroke="#c8c8c8" stroke-width="1.5" stroke-linejoin="miter"/>
<line x1="374.60" y1="240.00" x2="374.60" y2="234.40" stroke="#c8c8c8" stroke-width="1.5"/>
<path d="M374.60,229.90 L377.90,234.90 L371.30,234.90Z" fill="#c8c8c8"/>
<line x1="451.40" y1="195.00" x2="451.40" y2="188.80" stroke="#c8c8c8" stroke-width="1.5"/>
<path d="M451.40,184.30 L454.70,189.30 L448.10,189.30Z" fill="#c8c8c8"/>
<g transform="rotate(0 354.1 226.8)">
<rect x="351.70" y="220.00" width="4.8" height="3" fill="#fff" stroke="#c8c8c8" stroke-width="1.3"/>
<ellipse cx="354.1" cy="226.8" rx="4.1" ry="4.6" fill="#fff" stroke="#c8c8c8" stroke-width="1.5"/>
<path d="M354.51,223.95 Q351.64,227.03 354.72,230.02" fill="none" stroke="#c8c8c8" stroke-width="1.2"/>
</g>
<line x1="354.00" y1="248.30" x2="354.00" y2="237.00" stroke="#c8c8c8" stroke-width="1.5"/>
<path d="M354.00,232.50 L357.30,237.50 L350.70,237.50Z" fill="#c8c8c8"/>
<path d="M361.50,227.80 C363.42,227.38 370.00,226.30 373.00,225.30 C376.00,224.30 377.75,222.85 379.50,221.80 C381.25,220.75 382.83,219.47 383.50,219.00" fill="none" stroke="#c8c8c8" stroke-width="7.5" stroke-linecap="butt" stroke-linejoin="round"/>
<path d="M361.50,227.80 C363.42,227.38 370.00,226.30 373.00,225.30 C376.00,224.30 377.75,222.85 379.50,221.80 C381.25,220.75 382.83,219.47 383.50,219.00" fill="none" stroke="#fff" stroke-width="4.5" stroke-linecap="butt" stroke-linejoin="round"/>
<ellipse cx="383.5" cy="219" rx="1.6" ry="3.2" transform="rotate(-30 383.5 219)" fill="none" stroke="#c8c8c8" stroke-width="1.3"/>
<path d="M378.50,218.50 L381.00,224.50" fill="none" stroke="#c8c8c8" stroke-width="1.5" stroke-linejoin="miter"/>
<g transform="rotate(-20 392.2 212.2)">
<rect x="394.78" y="213.91" width="2.2" height="3.2" fill="#fff" stroke="#c8c8c8" stroke-width="1.1"/>
<ellipse cx="392.2" cy="212.2" rx="4.7" ry="4.9" fill="#fff" stroke="#c8c8c8" stroke-width="1.5"/>
<path d="M392.67,209.16 Q389.38,212.44 392.90,215.63" fill="none" stroke="#c8c8c8" stroke-width="1.2"/>
</g>
<line x1="392.70" y1="236.00" x2="392.70" y2="223.00" stroke="#c8c8c8" stroke-width="1.5"/>
<path d="M392.70,218.50 L396.00,223.50 L389.40,223.50Z" fill="#c8c8c8"/>
<path d="M401.50,207.70 L409.00,203.50" fill="none" stroke="#c8c8c8" stroke-width="6.0" stroke-linecap="round" stroke-linejoin="round"/>
<path d="M401.50,207.70 L409.00,203.50" fill="none" stroke="#fff" stroke-width="3.0" stroke-linecap="round" stroke-linejoin="round"/>
<path d="M416.00,199.50 L423.30,197.00" fill="none" stroke="#c8c8c8" stroke-width="6.3" stroke-linecap="round" stroke-linejoin="round"/>
<path d="M416.00,199.50 L423.30,197.00" fill="none" stroke="#fff" stroke-width="3.3" stroke-linecap="round" stroke-linejoin="round"/>
<path d="M406.1,200.8 L413,197 L417.5,198 L419.5,203 L417.3,205.6 L410.4,208.3 Q407,207 406.1,200.8 Z" fill="#fff" stroke="#c8c8c8" stroke-width="1.5" stroke-linejoin="round"/>
<path d="M409.5,199.3 Q411,203 411.5,207.5 M415,197.5 Q416.5,201 416.5,206" fill="none" stroke="#c8c8c8" stroke-width="1.2"/>
<line x1="413.40" y1="225.30" x2="413.40" y2="212.20" stroke="#c8c8c8" stroke-width="1.5"/>
<path d="M413.40,207.70 L416.70,212.70 L410.10,212.70Z" fill="#c8c8c8"/>
<g transform="rotate(-20 431.35 191.9)">
<rect x="433.83" y="193.58" width="2.2" height="3.2" fill="#fff" stroke="#c8c8c8" stroke-width="1.1"/>
<ellipse cx="431.35" cy="191.9" rx="4.5" ry="4.8" fill="#fff" stroke="#c8c8c8" stroke-width="1.5"/>
<path d="M431.80,188.92 Q428.65,192.14 432.03,195.26" fill="none" stroke="#c8c8c8" stroke-width="1.2"/>
</g>
<line x1="434.00" y1="215.50" x2="434.00" y2="200.50" stroke="#c8c8c8" stroke-width="1.5"/>
<path d="M434.00,196.00 L437.30,201.00 L430.70,201.00Z" fill="#c8c8c8"/>
<path d="M437.7,183.9 L446.6,180 Q447,177.5 447.5,175.3 L454.6,170 Q458.6,170 458.6,172.6 Q458.5,174.5 457.9,174.6 L452.6,177.3 Q452,181 451.3,185.25 L441.3,189.9 Q436.5,189.5 437.7,183.9 Z" fill="#fff" stroke="#c8c8c8" stroke-width="1.5" stroke-linejoin="round"/>
<ellipse cx="439.8" cy="187" rx="2" ry="3.2" transform="rotate(-25 439.8 187)" fill="none" stroke="#c8c8c8" stroke-width="1.2"/>
<g transform="rotate(-20 465.6 168.7)">
<rect x="468.13" y="170.34" width="2.2" height="3.2" fill="#fff" stroke="#c8c8c8" stroke-width="1.1"/>
<ellipse cx="465.6" cy="168.7" rx="4.6" ry="4.7" fill="#fff" stroke="#c8c8c8" stroke-width="1.5"/>
<path d="M466.06,165.79 Q462.84,168.94 466.29,171.99" fill="none" stroke="#c8c8c8" stroke-width="1.2"/>
</g>
<line x1="466.60" y1="191.10" x2="466.60" y2="178.10" stroke="#c8c8c8" stroke-width="1.5"/>
<path d="M466.60,173.60 L469.90,178.60 L463.30,178.60Z" fill="#c8c8c8"/>
<path d="M334.50,325.80 L334.50,332.00" fill="none" stroke="#c8c8c8" stroke-width="1.5" stroke-linejoin="miter"/>
<path d="M317.30,350.00 L317.30,332.00 L354.00,332.00 L354.00,345.00" fill="none" stroke="#c8c8c8" stroke-width="1.5" stroke-linejoin="miter"/>
<line x1="317.30" y1="345.00" x2="317.30" y2="355.70" stroke="#c8c8c8" stroke-width="1.5"/>
<path d="M317.30,360.20 L314.00,355.20 L320.60,355.20Z" fill="#c8c8c8"/>
<line x1="354.00" y1="340.00" x2="354.00" y2="349.40" stroke="#c8c8c8" stroke-width="1.5"/>
<path d="M354.00,353.90 L350.70,348.90 L357.30,348.90Z" fill="#c8c8c8"/>
<g transform="rotate(-15 319.25 366.3)">
<ellipse cx="319.25" cy="366.3" rx="4.3" ry="5.3" fill="#fff" stroke="#c8c8c8" stroke-width="1.5"/>
<path d="M319.68,363.01 Q316.67,366.56 319.89,370.01" fill="none" stroke="#c8c8c8" stroke-width="1.2"/>
</g>
<g transform="rotate(0 354.85 359.2)">
<rect x="352.45" y="351.85" width="4.8" height="3" fill="#fff" stroke="#c8c8c8" stroke-width="1.3"/>
<ellipse cx="354.85" cy="359.2" rx="4.45" ry="5.15" fill="#fff" stroke="#c8c8c8" stroke-width="1.5"/>
<path d="M355.30,356.01 Q352.18,359.46 355.52,362.81" fill="none" stroke="#c8c8c8" stroke-width="1.2"/>
</g>
<path d="M326.80,362.20 L333.50,358.00 L340.00,357.90 L346.30,358.10" fill="none" stroke="#c8c8c8" stroke-width="6.3" stroke-linecap="round" stroke-linejoin="round"/>
<path d="M326.80,362.20 L333.50,358.00 L340.00,357.90 L346.30,358.10" fill="none" stroke="#fff" stroke-width="3.3" stroke-linecap="round" stroke-linejoin="round"/>
<ellipse cx="346" cy="358.1" rx="1.4" ry="2.6" fill="none" stroke="#c8c8c8" stroke-width="1.1"/>
<path d="M326.50,359.50 L328.50,364.00" fill="none" stroke="#c8c8c8" stroke-width="1.1" stroke-linejoin="miter"/>
<line x1="339.20" y1="377.30" x2="339.20" y2="365.50" stroke="#c8c8c8" stroke-width="1.5"/>
<path d="M339.20,361.00 L342.50,366.00 L335.90,366.00Z" fill="#c8c8c8"/>
<path d="M306.00,375.50 L311.30,378.30" fill="none" stroke="#c8c8c8" stroke-width="6.0" stroke-linecap="round" stroke-linejoin="round"/>
<path d="M306.00,375.50 L311.30,378.30" fill="none" stroke="#fff" stroke-width="3.0" stroke-linecap="round" stroke-linejoin="round"/>
<ellipse cx="311.4" cy="378.2" rx="1.6" ry="2.4" transform="rotate(-30 311.4 378.2)" fill="none" stroke="#c8c8c8" stroke-width="1.1"/>
<path d="M305.50,371.80 L310.50,369.30" fill="none" stroke="#c8c8c8" stroke-width="6.0" stroke-linecap="round" stroke-linejoin="round"/>
<path d="M305.50,371.80 L310.50,369.30" fill="none" stroke="#fff" stroke-width="3.0" stroke-linecap="round" stroke-linejoin="round"/>
<path d="M298.20,369.80 L305.50,375.00" fill="none" stroke="#c8c8c8" stroke-width="7.5" stroke-linecap="round" stroke-linejoin="round"/>
<path d="M298.20,369.80 L305.50,375.00" fill="none" stroke="#fff" stroke-width="4.5" stroke-linecap="round" stroke-linejoin="round"/>
<line x1="303.30" y1="351.60" x2="303.30" y2="363.00" stroke="#c8c8c8" stroke-width="1.5"/>
<path d="M303.30,367.50 L300.00,362.50 L306.60,362.50Z" fill="#c8c8c8"/>
<g transform="rotate(20 320.1 382.6)">
<ellipse cx="320.1" cy="382.6" rx="4.4" ry="5.3" fill="#fff" stroke="#c8c8c8" stroke-width="1.5"/>
<path d="M320.54,379.31 Q317.46,382.87 320.76,386.31" fill="none" stroke="#c8c8c8" stroke-width="1.2"/>
</g>
<line x1="319.70" y1="404.70" x2="319.70" y2="392.80" stroke="#c8c8c8" stroke-width="1.5"/>
<path d="M319.70,388.30 L323.00,393.30 L316.40,393.30Z" fill="#c8c8c8"/>
<path d="M408.50,346.00 L539.00,346.00 L539.00,440.50 L408.50,440.50 L408.50,346.00" fill="none" stroke="#c8c8c8" stroke-width="1.5" stroke-linejoin="miter"/>
<path d="M437.50,336.50 L437.50,346.00" fill="none" stroke="#c8c8c8" stroke-width="1.5" stroke-linejoin="miter"/>
<path d="M416.00,392.50 L428.50,398.50" fill="none" stroke="#c8c8c8" stroke-width="9.5" stroke-linecap="round" stroke-linejoin="round"/>
<path d="M416.00,392.50 L428.50,398.50" fill="none" stroke="#fff" stroke-width="6.5" stroke-linecap="round" stroke-linejoin="round"/>
<ellipse cx="428.5" cy="398.5" rx="2.2" ry="4" transform="rotate(-30 428.5 398.5)" fill="none" stroke="#c8c8c8" stroke-width="1.3"/>
<g transform="rotate(20 437.35 402.4)">
<ellipse cx="437.35" cy="402.4" rx="4.35" ry="4.9" fill="#fff" stroke="#c8c8c8" stroke-width="1.5"/>
<path d="M437.79,399.36 Q434.74,402.64 438.00,405.83" fill="none" stroke="#c8c8c8" stroke-width="1.2"/>
</g>
<line x1="437.80" y1="378.50" x2="437.80" y2="392.90" stroke="#c8c8c8" stroke-width="1.5"/>
<path d="M437.80,397.40 L434.50,392.40 L441.10,392.40Z" fill="#c8c8c8"/>
<path d="M456.00,414.50 L461.50,418.00" fill="none" stroke="#c8c8c8" stroke-width="5.3" stroke-linecap="round" stroke-linejoin="round"/>
<path d="M456.00,414.50 L461.50,418.00" fill="none" stroke="#fff" stroke-width="2.3" stroke-linecap="round" stroke-linejoin="round"/>
<ellipse cx="461.4" cy="417.8" rx="1.5" ry="2.2" transform="rotate(-35 461.4 417.8)" fill="none" stroke="#c8c8c8" stroke-width="1.1"/>
<path d="M445.5,406.8 Q444,408 445.5,410 L450.5,414.3 L455.5,417.3 Q457.5,417 457.8,414.5 L452.8,409.8 L450,409.3 L447.2,406.8 Q446.4,406.3 445.5,406.8 Z" fill="#fff" stroke="#c8c8c8" stroke-width="1.5" stroke-linejoin="round"/>
<line x1="455.20" y1="392.00" x2="455.20" y2="404.20" stroke="#c8c8c8" stroke-width="1.5"/>
<path d="M455.20,408.70 L451.90,403.70 L458.50,403.70Z" fill="#c8c8c8"/>
<g transform="rotate(25 470.6 424.7)">
<ellipse cx="470.6" cy="424.7" rx="4" ry="5" fill="#fff" stroke="#c8c8c8" stroke-width="1.5"/>
<path d="M471.00,421.60 Q468.20,424.95 471.20,428.20" fill="none" stroke="#c8c8c8" stroke-width="1.2"/>
</g>
<line x1="477.10" y1="403.50" x2="474.38" y2="412.69" stroke="#c8c8c8" stroke-width="1.5"/>
<path d="M473.10,417.00 L471.36,411.27 L477.68,413.14Z" fill="#c8c8c8"/>
<path d="M496,411.5 L503,413 Q506,414.5 505.8,416 L505,420 L502.5,422 L501,425 L499,424.5 L498,421 L494.5,420 L494,416 Q494,412 496,411.5 Z" fill="#fff" stroke="#c8c8c8" stroke-width="1.5" stroke-linejoin="round"/>
<line x1="502.40" y1="395.70" x2="501.97" y2="406.80" stroke="#c8c8c8" stroke-width="1.5"/>
<path d="M501.80,411.30 L498.69,406.18 L505.29,406.43Z" fill="#c8c8c8"/>
<path d="M478.00,428.00 C479.83,428.80 485.00,431.75 489.00,432.80 C493.00,433.85 498.00,434.68 502.00,434.30 C506.00,433.92 509.67,432.80 513.00,430.50 C516.33,428.20 519.17,423.03 522.00,420.50 C524.83,417.97 527.75,416.00 530.00,415.30 C532.25,414.60 534.58,416.13 535.50,416.30" fill="none" stroke="#c8c8c8" stroke-width="7.3" stroke-linecap="round" stroke-linejoin="round"/>
<path d="M478.00,428.00 C479.83,428.80 485.00,431.75 489.00,432.80 C493.00,433.85 498.00,434.68 502.00,434.30 C506.00,433.92 509.67,432.80 513.00,430.50 C516.33,428.20 519.17,423.03 522.00,420.50 C524.83,417.97 527.75,416.00 530.00,415.30 C532.25,414.60 534.58,416.13 535.50,416.30" fill="none" stroke="#fff" stroke-width="4.3" stroke-linecap="round" stroke-linejoin="round"/>
<ellipse cx="558.2" cy="415.6" rx="3.6" ry="4.7" transform="rotate(0 558.2 415.6)" fill="none" stroke="#c8c8c8" stroke-width="1.5"/>
<path d="M558.00,412.50 L558.60,418.80" fill="none" stroke="#c8c8c8" stroke-width="1" stroke-linejoin="miter"/>
<line x1="558.50" y1="393.50" x2="558.50" y2="406.10" stroke="#c8c8c8" stroke-width="1.5"/>
<path d="M558.50,410.60 L555.20,405.60 L561.80,405.60Z" fill="#c8c8c8"/>
</svg>
<div class="bar"></div>
<div class="t" style="left:135.3px;top:461px">Part or sub-assembly is #12 in diagram</div>
<div class="t" style="left:110.5px;top:481px">Diagram may not be specific to your vehicle</div>
</body></html>
